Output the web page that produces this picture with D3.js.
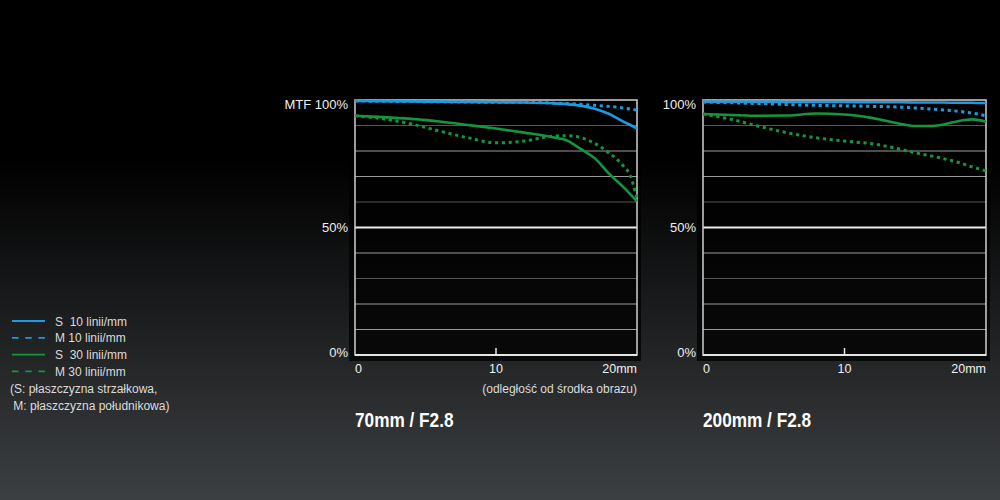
<!DOCTYPE html>
<html>
<head>
<meta charset="utf-8">
<script src="https://cdn.jsdelivr.net/npm/d3@7"></script>
<style>
  html, body { margin: 0; padding: 0; background: #000; }
  svg { display: block; }
  text { font-family: "Liberation Sans", Arial, sans-serif; }
</style>
</head>
<body>
<div id="chart-area"></div>
<script>
// Data: distance from image centre (mm) and MTF values (%)
const positions = [0, 2, 4, 6, 8, 10, 12, 14, 15, 16, 17, 18, 19, 19.5, 20];

const wide_S10 = [99.6, 99.5, 99.4, 99.3, 99.2, 99.1, 99.0, 98.7, 98.4, 97.8, 96.6, 94.6, 91.6, 90.3, 88.8];
const wide_M10 = [99.6, 99.5, 99.4, 99.3, 99.2, 99.1, 99.1, 98.8, 98.6, 98.3, 97.9, 97.5, 96.9, 96.5, 96.0];
const wide_S30 = [93.8, 93.3, 92.6, 91.6, 90.2, 88.8, 87.2, 85.4, 84.2, 80.8, 77.2, 71.2, 66.0, 63.2, 60.3];
const wide_M30 = [93.8, 92.6, 90.6, 87.8, 85.2, 83.2, 83.9, 85.8, 86.0, 85.3, 83.0, 79.3, 74.3, 70.6, 61.5];

const tele_S10 = [99.3, 99.3, 99.3, 99.2, 99.2, 99.2, 99.1, 99.1, 99.0, 99.0, 99.0, 98.9, 98.9, 98.8, 98.8];
const tele_M10 = [99.2, 98.9, 98.6, 98.2, 97.9, 97.7, 97.5, 97.2, 96.9, 96.5, 96.1, 95.6, 94.9, 94.4, 93.8];
const tele_S30 = [94.5, 94.1, 93.8, 93.9, 94.7, 94.3, 92.9, 90.6, 89.8, 89.8, 90.4, 91.7, 92.4, 92.1, 91.5];
const tele_M30 = [94.5, 92.4, 89.6, 87.1, 85.2, 83.9, 82.8, 80.6, 79.3, 78.2, 77.0, 75.6, 73.8, 73.0, 72.2];

const gridValues = [10, 20, 30, 40, 50, 60, 70, 80, 90];
const yTickValues = [0, 50, 100];
const xTickValues = [0, 10, 20];
const xTickLabels = ["0", "10", "20mm"];

const legendLabels = ["S  10 linii/mm", "M 10 linii/mm", "S  30 linii/mm", "M 30 linii/mm"];
const legendNotes = ["(S: płaszczyzna strzałkowa,", " M: płaszczyzna południkowa)"];

// Colours
const COLORS = {
  blue: "#1b9be2",
  green: "#14973c",
  gridLight: "#9a9a9a",
  gridDark: "#555",
  gridMid: "#ececec",
  frame: "#d0d0d0",
  text: "#f0f0f0",
  legendText: "#dcdcdc",
};

// Series styles (drawn back to front)
const SERIES = [
  { key: "M30", color: COLORS.green, dotted: true },
  { key: "S30", color: COLORS.green, dotted: false },
  { key: "M10", color: COLORS.blue, dotted: true },
  { key: "S10", color: COLORS.blue, dotted: false },
];

const CHARTS = [
  {
    left: 355, top: 100, width: 282, height: 255,
    title: "70mm / F2.8", topLabel: "MTF 100%", showNote: true,
    series: { S10: wide_S10, M10: wide_M10, S30: wide_S30, M30: wide_M30 },
  },
  {
    left: 703, top: 100, width: 283, height: 255,
    title: "200mm / F2.8", topLabel: "100%", showNote: false,
    series: { S10: tele_S10, M10: tele_M10, S30: tele_S30, M30: tele_M30 },
  },
];

const W = 1000, H = 500;

const svg = d3.select("#chart-area").append("svg")
  .attr("width", W)
  .attr("height", H);

// Background gradient
const defs = svg.append("defs");
const grad = defs.append("linearGradient")
  .attr("id", "bg")
  .attr("x1", 0).attr("y1", 0).attr("x2", 0).attr("y2", 1);
grad.append("stop").attr("offset", "0%").attr("stop-color", "#000");
grad.append("stop").attr("offset", "32%").attr("stop-color", "#000");
grad.append("stop").attr("offset", "100%").attr("stop-color", "#3c3f42");

svg.append("rect")
  .attr("width", W)
  .attr("height", H)
  .attr("fill", "url(#bg)");

CHARTS.forEach(drawChart);
drawLegend();

/**
 * Draws one MTF panel
 */
function drawChart(cfg) {
  const x = d3.scaleLinear().domain([0, 20]).range([0, cfg.width]);
  const y = d3.scaleLinear().domain([0, 100]).range([cfg.height, 0]);

  const g = svg.append("g")
    .attr("transform", `translate(${cfg.left}, ${cfg.top})`);

  // dark panel behind the plot
  g.append("rect")
    .attr("x", -6)
    .attr("y", -6)
    .attr("width", cfg.width + 10)
    .attr("height", cfg.height + 12)
    .attr("fill", "#000")
    .attr("opacity", 0.75);

  // grid lines
  g.selectAll(".grid")
    .data(gridValues)
    .enter()
    .append("line")
    .attr("class", "grid")
    .attr("x1", 0)
    .attr("x2", cfg.width)
    .attr("y1", (d) => y(d))
    .attr("y2", (d) => y(d))
    .attr("stroke", (d) => d === 50 ? COLORS.gridMid : (d % 30 === 0 ? COLORS.gridDark : COLORS.gridLight))
    .attr("stroke-width", (d) => d === 50 ? 2 : 1.2);

  // frame
  g.append("rect")
    .attr("x", 0)
    .attr("y", 0)
    .attr("width", cfg.width)
    .attr("height", cfg.height)
    .attr("fill", "none")
    .attr("stroke", COLORS.frame)
    .attr("stroke-width", 1.5);

  g.append("line")
    .attr("x1", 0).attr("x2", cfg.width)
    .attr("y1", cfg.height).attr("y2", cfg.height)
    .attr("stroke", "#e6e6e6")
    .attr("stroke-width", 2);

  // mid tick at 10mm
  g.append("line")
    .attr("x1", x(10)).attr("x2", x(10))
    .attr("y1", cfg.height).attr("y2", cfg.height - 7)
    .attr("stroke", "#e6e6e6")
    .attr("stroke-width", 1.5);

  // curves
  const line = d3.line()
    .x((d, i) => x(positions[i]))
    .y((d) => y(d))
    .curve(d3.curveMonotoneX);

  SERIES.forEach((s) => {
    g.append("path")
      .datum(cfg.series[s.key])
      .attr("d", line)
      .attr("fill", "none")
      .attr("stroke", s.color)
      .attr("stroke-width", s.dotted ? 3 : 2.6)
      .attr("stroke-dasharray", s.dotted ? "3.2,3.6" : null);
  });

  // y labels
  g.selectAll(".ylabel")
    .data(yTickValues)
    .enter()
    .append("text")
    .attr("class", "ylabel")
    .attr("x", -7)
    .attr("y", (d) => y(d) + (d === 100 ? 9 : d === 0 ? 2 : 4))
    .attr("text-anchor", "end")
    .attr("fill", COLORS.text)
    .style("font-size", "13px")
    .text((d) => d === 100 ? cfg.topLabel : d + "%");

  // x labels
  g.selectAll(".xlabel")
    .data(xTickValues)
    .enter()
    .append("text")
    .attr("class", "xlabel")
    .attr("x", (d) => x(d))
    .attr("y", cfg.height + 18)
    .attr("text-anchor", (d, i) => i === 0 ? "start" : (i === xTickValues.length - 1 ? "end" : "middle"))
    .attr("fill", COLORS.text)
    .style("font-size", "12.5px")
    .text((d, i) => xTickLabels[i]);

  if (cfg.showNote) {
    g.append("text")
      .attr("x", cfg.width)
      .attr("y", cfg.height + 38)
      .attr("text-anchor", "end")
      .attr("fill", COLORS.legendText)
      .style("font-size", "12px")
      .text("(odległość od środka obrazu)");
  }

  // title (condensed bold look: squeeze horizontally)
  g.append("text")
    .attr("transform", `translate(0, ${cfg.height + 72}) scale(0.82, 1)`)
    .attr("fill", "#fff")
    .style("font-weight", "bold")
    .style("font-size", "21px")
    .text(cfg.title);
}

/**
 * Legend on the left side
 */
function drawLegend() {
  const lg = svg.append("g").attr("transform", "translate(12, 321)");
  const legendSeries = [SERIES[3], SERIES[2], SERIES[1], SERIES[0]];

  const items = lg.selectAll(".item")
    .data(legendLabels)
    .enter()
    .append("g")
    .attr("class", "item")
    .attr("transform", (d, i) => `translate(0, ${i * 16.8})`);

  items.append("line")
    .attr("x1", 0).attr("x2", 33)
    .attr("y1", 0).attr("y2", 0)
    .attr("stroke", (d, i) => legendSeries[i].color)
    .attr("stroke-width", 1.8)
    .attr("stroke-dasharray", (d, i) => legendSeries[i].dotted ? "6.5,6.7" : null);

  items.append("text")
    .attr("x", 43)
    .attr("y", 4.5)
    .attr("fill", COLORS.legendText)
    .style("font-size", "12px")
    .attr("xml:space", "preserve")
    .text((d) => d);

  lg.selectAll(".note")
    .data(legendNotes)
    .enter()
    .append("text")
    .attr("class", "note")
    .attr("x", -2)
    .attr("y", (d, i) => 72 + i * 17)
    .attr("fill", COLORS.legendText)
    .style("font-size", "12px")
    .attr("xml:space", "preserve")
    .text((d) => d);
}
</script>
</body>
</html>
